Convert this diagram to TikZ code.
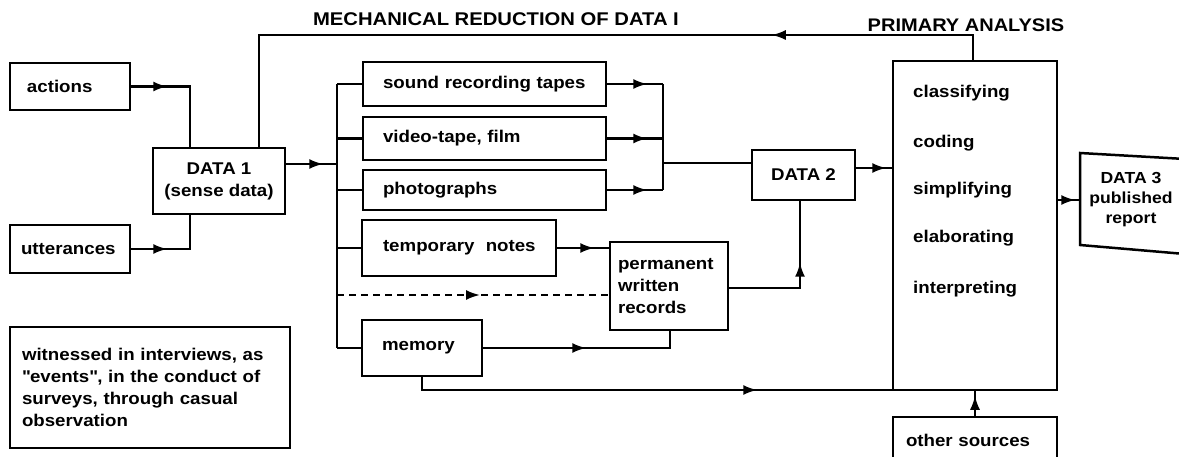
\documentclass[tikz,border=0pt]{standalone}
\usepackage{fontspec}
\setmainfont{Liberation Sans}[FakeStretch=1.1]
\usetikzlibrary{arrows.meta,decorations.markings}
\tikzset{
  bx/.style={draw, line width=2.5pt, inner ysep=0pt, align=left},
  cbx/.style={draw, line width=2.5pt, inner sep=0pt, align=center},
  conn/.style={line width=2.1pt},
  arr/.style={postaction={decorate}, decoration={markings, mark=at position #1 with {\arrow{Latex[length=14pt,width=10pt]}}}},
  lbl/.style={inner sep=0pt},
}
\begin{document}
\begin{tikzpicture}[x=1pt,y=-1pt,font=\fontsize{17}{22}\selectfont\bfseries]
\useasboundingbox (0,0) rectangle (1179,457);

% titles
\node[lbl, font=\fontsize{18.4}{22}\selectfont\bfseries] (mech) at (496,19) {MECHANICAL REDUCTION OF DATA I};
\node[lbl, font=\fontsize{18.2}{22}\selectfont\bfseries] (prim) at (966,25) {PRIMARY ANALYSIS};

% left boxes
\node[bx, minimum width=120pt, minimum height=47pt, text width=86pt, inner xsep=17pt] (actions) at (70,86.5) {actions};
\node[bx, minimum width=120pt, minimum height=48pt, text width=98pt, inner xsep=11pt] (utterances) at (70,249) {utterances};
\node[cbx, minimum width=132pt, minimum height=66pt] (data1) at (219,181) {DATA 1\\(sense data)};
\node[bx, minimum width=280pt, minimum height=121pt, text width=256pt, inner xsep=12pt] (witness) at (150,387.5)
  {witnessed in interviews, as\\\textquotedbl events\textquotedbl, in the conduct of\\surveys, through casual\\observation};

% middle boxes
\node[bx, minimum width=243pt, minimum height=44pt, text width=203pt, inner xsep=20pt] (sound) at (484.5,84) {sound recording tapes};
\node[bx, minimum width=243pt, minimum height=43pt, text width=203pt, inner xsep=20pt] (video) at (484.5,138.5) {video-tape, film};
\node[bx, minimum width=243pt, minimum height=40pt, text width=203pt, inner xsep=20pt] (photo) at (484.5,190) {photographs};
\node[bx, minimum width=194pt, minimum height=56pt, text width=164pt, inner xsep=15pt] (temp) at (459,248) {\hspace*{6pt}temporary\ \ notes};
\node[bx, minimum width=120pt, minimum height=56pt, text width=80pt, inner xsep=20pt] (memory) at (422,348) {memory};
\node[bx, minimum width=118pt, minimum height=88pt, text width=102pt, inner xsep=8pt] (perm) at (669,286) {permanent\\written\\records};
\node[cbx, minimum width=103pt, minimum height=50pt] (data2) at (803.5,175) {DATA 2};

% primary analysis
\node[draw, line width=2.5pt, minimum width=164pt, minimum height=329pt, inner sep=0pt] (primary) at (975,225.5) {};
\node[lbl, anchor=west] (c1) at (913,93) {classifying};
\node[lbl, anchor=west] (c2) at (913,143) {coding};
\node[lbl, anchor=west] (c3) at (913,190) {simplifying};
\node[lbl, anchor=west] (c4) at (913,238) {elaborating};
\node[lbl, anchor=west] (c5) at (913,289) {interpreting};

\node[bx, minimum width=164pt, minimum height=46pt, text width=138pt, inner xsep=13pt] (other) at (975,440) {other sources};

% data 3
\coordinate (d3a) at (1080,153);
\coordinate (d3b) at (1185,159);
\coordinate (d3c) at (1185,254);
\coordinate (d3d) at (1080,245);
\draw[line width=2.5pt] (d3b) -- (d3a) -- (d3d) -- (d3c);
\node[lbl, align=center, font=\fontsize{16}{20}\selectfont\bfseries] (d3) at (1131,200) {DATA 3\\published\\report};

% connectors: inputs to DATA 1
\coordinate (a1) at (190,86.5);
\coordinate (u1) at (190,249);
\draw[conn, arr=36pt] (actions.east) -- (a1) -- (a1 |- data1.north);
\draw[conn, arr=36pt] (utterances.east) -- (u1) -- (u1 |- data1.south);

% feedback line
\coordinate (t1) at (259,35);
\coordinate (t2) at (973,35);
\draw[conn, arr=226pt] (t2 |- primary.north) -- (t2) -- (t1) -- (t1 |- data1.north);

% bus
\coordinate (b0) at (337,164);
\draw[conn, arr=37pt] (data1.east |- b0) -- (b0);
\draw[conn] (b0 |- sound.west) -- (b0 |- memory.west);
\foreach \n in {sound,video,photo,temp,memory} \draw[conn] (b0 |- \n.west) -- (\n.west);

% merge to DATA 2
\coordinate (m0) at (663,163);
\foreach \n in {sound,video,photo} \draw[conn, arr=40pt] (\n.east) -- (m0 |- \n.east);
\draw[conn] (m0 |- sound.east) -- (m0 |- photo.east);
\draw[conn] (m0) -- (m0 -| data2.west);

% DATA 2 to primary
\coordinate (q) at (880,168);
\draw[conn, arr=30pt] (data2.east |- q) -- (primary.west |- q);

% primary to DATA 3
\coordinate (d3w) at (1080,200);
\draw[conn, arr=17pt] (primary.east |- d3w) -- (d3w);

% notes to records
\draw[conn, arr=37pt] (temp.east) -- (perm.west |- temp.east);
\coordinate (p2) at (800,288);
\draw[conn, arr=96pt] (perm.east |- p2) -- (p2) -- (p2 |- data2.south);
\coordinate (dsh) at (337,295);
\draw[conn, dash pattern=on 7pt off 5pt, arr=143pt] (dsh) -- (perm.west |- dsh);
\coordinate (mp) at (670,348);
\draw[conn, arr=103pt] (memory.east) -- (mp) -- (mp |- perm.south);

% memory to bottom line
\coordinate (ml) at (422,390);
\draw[conn, arr=348pt] (memory.south) -- (ml) -- (ml -| primary.east);
\draw[conn, arr=20pt] (other.north) -- (other.north |- ml);
\end{tikzpicture}
\end{document}
